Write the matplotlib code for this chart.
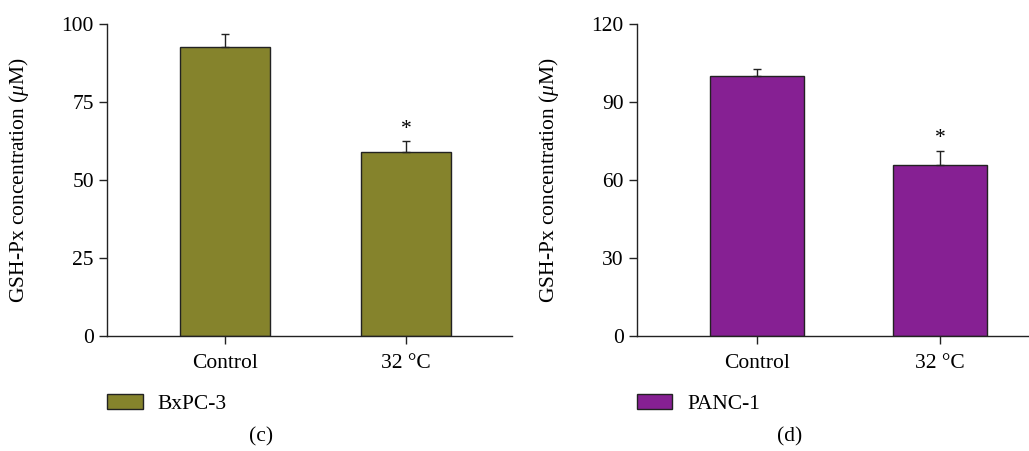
import numpy as np
import matplotlib
matplotlib.use('Agg')
import matplotlib.pyplot as plt

plt.rcParams['font.family'] = ['Liberation Serif', 'DejaVu Serif']
plt.rcParams['mathtext.fontset'] = 'custom'
plt.rcParams['mathtext.rm'] = 'Liberation Serif'
plt.rcParams['mathtext.it'] = 'Liberation Serif:italic'

categories = ['Control', '32 °C']

bxpc3_values = [92.7, 59.1]
bxpc3_errors = [4.2, 3.3]
panc1_values = [100.0, 65.9]
panc1_errors = [2.8, 5.2]

bxpc3_ticks = [0, 25, 50, 75, 100]
panc1_ticks = [0, 30, 60, 90, 120]

olive = '#85832C'
purple = '#862093'
FS = 15.5


def draw_panel(ax, values, errors, color, yticks, xlim, width, legend_label, star):
    x = np.arange(len(categories))
    ax.bar(x, values, width=width, color=color, edgecolor='#222222', linewidth=1.0,
           yerr=[np.zeros(len(errors)), errors], capsize=3,
           error_kw=dict(ecolor='#222222', elinewidth=1.0, capthick=1.0),
           label=legend_label, zorder=2)
    for i in star:
        ax.annotate('*', (x[i], values[i] + errors[i]), xytext=(0, 2),
                    textcoords='offset points', ha='center', va='bottom', fontsize=FS)
    ax.set_xlim(*xlim)
    ax.set_ylim(0, yticks[-1])
    ax.set_yticks(yticks)
    ax.set_xticks(x)
    ax.set_xticklabels(categories, fontsize=FS)
    ax.tick_params(axis='y', labelsize=FS, direction='out', length=6, width=1, color='#222222')
    ax.tick_params(axis='x', direction='out', length=6, width=1, pad=7, color='#222222')
    for s in ['top', 'right']:
        ax.spines[s].set_visible(False)
    for s in ['left', 'bottom']:
        ax.spines[s].set_linewidth(1.0)
        ax.spines[s].set_color('#222222')
    ax.set_ylabel(r'GSH-Px concentration ($\mathit{\mu}$M)', fontsize=FS)
    ax.legend(loc='center left', bbox_to_anchor=(0, -0.218), frameon=False,
              borderaxespad=0, borderpad=0, handlelength=1.65, handleheight=0.66,
              handletextpad=0.7, fontsize=FS)


fig = plt.figure(figsize=(10.29, 4.51), dpi=100)
ax1 = fig.add_axes([0.104, 0.255, 0.3936, 0.6918])
ax2 = fig.add_axes([0.619, 0.255, 0.381, 0.6918])

draw_panel(ax1, bxpc3_values, bxpc3_errors, olive, bxpc3_ticks, (-0.652, 1.586), 0.5, 'BxPC-3', [1])
draw_panel(ax2, panc1_values, panc1_errors, purple, panc1_ticks, (-0.656, 1.486), 0.51, 'PANC-1', [1])

ax1.yaxis.set_label_coords(-0.187, 0.5)
ax2.yaxis.set_label_coords(-0.193, 0.5)

fig.text(261 / 1029, 1 - 437 / 451, '(c)', ha='center', va='center', fontsize=FS)
fig.text(790 / 1029, 1 - 437 / 451, '(d)', ha='center', va='center', fontsize=FS)

plt.savefig('out.png', dpi=100)
